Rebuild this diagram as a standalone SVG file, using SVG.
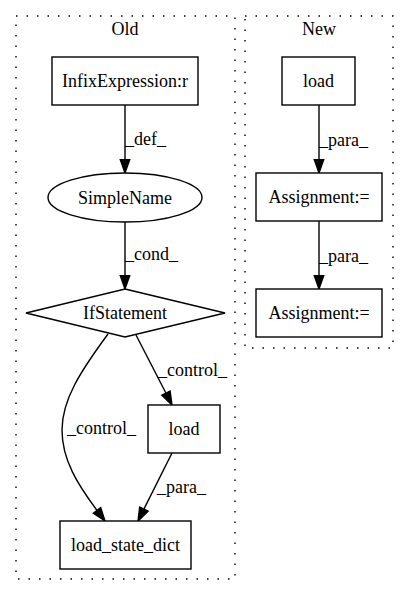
<svg xmlns="http://www.w3.org/2000/svg" width="408" height="596" viewBox="0 0 408 596">
<style>
text{font-family:"Liberation Serif","Times New Roman",serif;font-size:18px;fill:#000}
.c{text-anchor:middle}
.cl{fill:none;stroke:#000;stroke-width:1.4;stroke-dasharray:1.5,9}
.n{fill:#fff;stroke:#000;stroke-width:1.4}
.e{fill:none;stroke:#000;stroke-width:1.4}
.a{fill:#000;stroke:#000;stroke-width:1.4}
</style>
<rect width="408" height="596" fill="#fff"/>
<g id="cluster_old">
<rect class="cl" x="16" y="16" width="219" height="563"/>
<text class="c" x="125" y="35">Old</text>
</g>
<g id="cluster_new">
<rect class="cl" x="245" y="16" width="148" height="332"/>
<text class="c" x="319" y="35">New</text>
</g>
<g id="connectors">
<line class="e" x1="125" y1="105" x2="125" y2="160"/>
<polygon class="a" points="125,173 120.3,159.7 129.7,159.7"/>
<text x="125" y="145">_def_</text>
<line class="e" x1="125" y1="222" x2="125" y2="276"/>
<polygon class="a" points="125,289 120.3,275.7 129.7,275.7"/>
<text x="125" y="260">_cond_</text>
<line class="e" x1="136" y1="335" x2="166" y2="393.2"/>
<polygon class="a" points="172,405 161.8,395.3 170.1,391.1"/>
<text x="158" y="376">_control_</text>
<path class="e" d="M108,334 C80,372 62,400 62,430 C62,460 78,485 97,510.4"/>
<polygon class="a" points="105,521 93.3,513.2 100.7,507.6"/>
<text x="67" y="434">_control_</text>
<line class="e" x1="172" y1="453" x2="143.9" y2="509.1"/>
<polygon class="a" points="138,521 139.7,507 148.1,511.2"/>
<text x="157" y="493">_para_</text>
<line class="e" x1="319" y1="105" x2="319" y2="160"/>
<polygon class="a" points="319,173 314.3,159.7 323.7,159.7"/>
<text x="319" y="146">_para_</text>
<line class="e" x1="319" y1="221" x2="319" y2="276"/>
<polygon class="a" points="319,289 314.3,275.7 323.7,275.7"/>
<text x="319" y="262">_para_</text>
</g>
<g id="infix">
<rect class="n" x="52" y="57" width="146" height="48"/>
<text class="c" x="125" y="87">InfixExpression:r</text>
</g>
<g id="simplename">
<ellipse class="n" cx="125" cy="197.5" rx="77" ry="24.5"/>
<text class="c" x="125" y="203.5">SimpleName</text>
</g>
<g id="ifstatement">
<polygon class="n" points="125,289 225,313 125,337 26,313"/>
<text class="c" x="125" y="319">IfStatement</text>
</g>
<g id="load_old">
<rect class="n" x="148" y="405" width="72" height="48"/>
<text class="c" x="184" y="435">load</text>
</g>
<g id="load_state_dict">
<rect class="n" x="60" y="521" width="131" height="48"/>
<text class="c" x="125.5" y="551">load_state_dict</text>
</g>
<g id="load_new">
<rect class="n" x="282" y="57" width="73" height="48"/>
<text class="c" x="318.5" y="87">load</text>
</g>
<g id="assign1">
<rect class="n" x="256" y="173" width="126" height="48"/>
<text class="c" x="319" y="203">Assignment:=</text>
</g>
<g id="assign2">
<rect class="n" x="256" y="289" width="126" height="48"/>
<text class="c" x="319" y="319">Assignment:=</text>
</g>
</svg>
